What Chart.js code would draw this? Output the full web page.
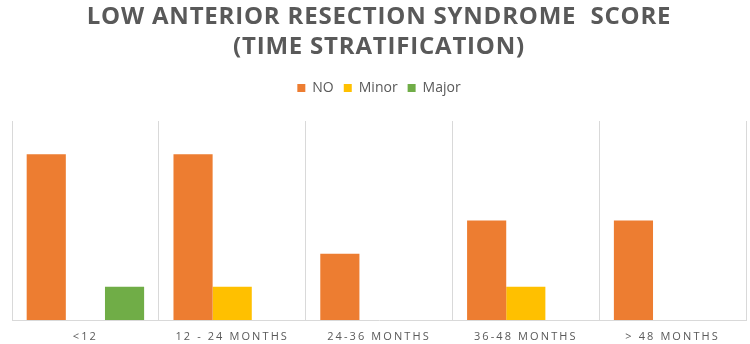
<!DOCTYPE html>
<html>
<head>
<meta charset="utf-8">
<script src="https://cdn.jsdelivr.net/npm/chart.js@4"></script>
<style>
  html, body { margin: 0; padding: 0; background: #fff; }
  #wrap { width: 750px; height: 344px; }
</style>
</head>
<body>
<div id="wrap"><canvas id="barChart"></canvas></div>
<script>
// Daten
const categories = ["<12", "12 - 24 MONTHS", "24-36 MONTHS", "36-48 MONTHS", "> 48 MONTHS"];
const noValues = [5, 5, 2, 3, 3];
const minorValues = [0, 1, 0, 1, 0];
const majorValues = [1, 0, 0, 0, 0];

const grey = "#595959";

// etwas mehr Platz unter der Legende
const legendSpace = {
  id: "legendSpace",
  beforeInit(chart) {
    const fit = chart.legend.fit;
    chart.legend.fit = function () {
      fit.bind(chart.legend)();
      this.height += 16;
    };
  }
};

// Buchstabenabstand: Titel etwas, Achsenbeschriftung mehr
function withSpacing(box, px) {
  const draw = box.draw;
  box.draw = function () {
    const ctx = this.ctx;
    const old = ctx.letterSpacing;
    ctx.letterSpacing = px;
    draw.apply(this, arguments);
    ctx.letterSpacing = old;
  };
}

const spacing = {
  id: "spacing",
  afterInit(chart) {
    withSpacing(chart.titleBlock, "0.8px");
    withSpacing(chart.legend, "0px");
  },
  beforeDraw(chart) { chart.ctx.letterSpacing = "2.1px"; },
  afterDraw(chart) { chart.ctx.letterSpacing = "0px"; }
};

new Chart(document.getElementById("barChart"), {
  type: "bar",
  data: {
    labels: categories,
    datasets: [
      { label: "NO", data: noValues, backgroundColor: "#ED7D31" },
      { label: "Minor", data: minorValues, backgroundColor: "#FFC000" },
      { label: "Major", data: majorValues, backgroundColor: "#70AD47" }
    ]
  },
  options: {
    responsive: true,
    maintainAspectRatio: false,
    animation: false,
    datasets: { bar: { categoryPercentage: 0.8, barPercentage: 1.0 } },
    layout: { padding: { left: 12, right: 4, top: 0, bottom: 0 } },
    plugins: {
      title: {
        display: true,
        text: ["LOW ANTERIOR RESECTION SYNDROME  SCORE", "(TIME STRATIFICATION)"],
        color: grey,
        font: { family: "Open Sans", size: 24, weight: "bold", lineHeight: 1.25 },
        padding: { top: 2, bottom: 9 }
      },
      legend: {
        position: "top",
        labels: {
          color: grey,
          boxWidth: 8,
          boxHeight: 8,
          padding: 10,
          font: { family: "Open Sans", size: 14 }
        }
      },
      tooltip: { enabled: false }
    },
    scales: {
      x: {
        grid: { color: "#D9D9D9", drawTicks: false },
        border: { color: "#D9D9D9" },
        ticks: {
          color: grey,
          padding: 10,
          font: { family: "Open Sans", size: 11 }
        },
        afterFit(scale) { scale.height = 24; }
      },
      y: {
        display: false,
        min: 0,
        max: 6
      }
    }
  },
  plugins: [legendSpace, spacing]
});
</script>
</body>
</html>
